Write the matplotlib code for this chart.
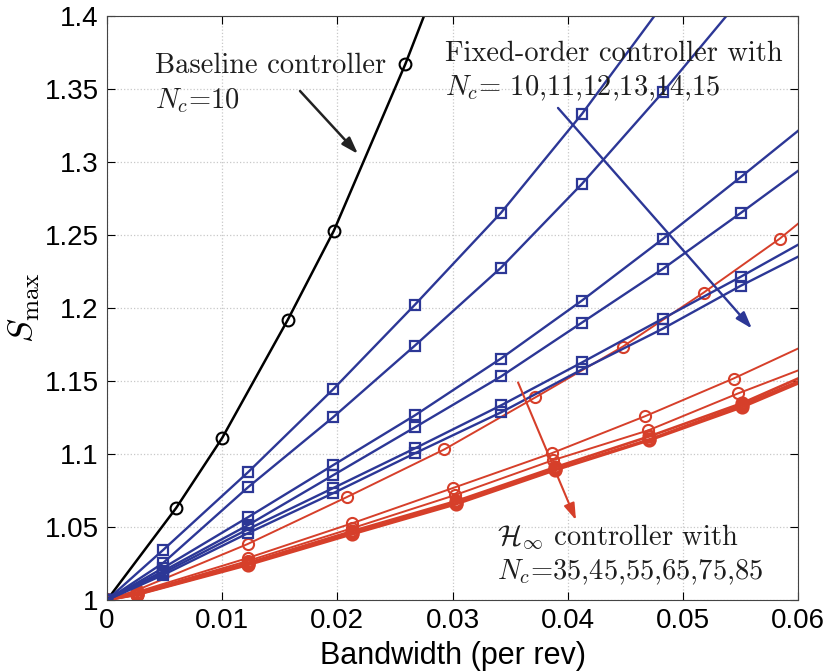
import matplotlib
matplotlib.use("Agg")
import matplotlib.pyplot as plt

plt.rcParams['mathtext.fontset'] = 'cm'
tick_font = ['Liberation Sans Narrow', 'Liberation Sans', 'DejaVu Sans']

# baseline controller (black)
base_bw = [0.0, 0.0060, 0.0100, 0.0157, 0.0197, 0.0259, 0.0290]
base_s = [1.000, 1.063, 1.111, 1.192, 1.253, 1.367, 1.430]
base_marks = [0, 1, 2, 3, 4, 5]

# fixed-order controllers (blue), Nc = 10..15
fo_bw = [0.0, 0.00486, 0.01224, 0.01962, 0.02674, 0.03421, 0.04124, 0.04828, 0.05505, 0.0600]
fo_s = [
    [1.000, 1.0342, 1.0875, 1.1442, 1.2023, 1.2652, 1.3329, 1.4080],
    [1.000, 1.0253, 1.0772, 1.1251, 1.1743, 1.2276, 1.2850, 1.3479, 1.4120],
    [1.000, 1.0219, 1.0567, 1.0923, 1.1265, 1.1654, 1.2051, 1.2474, 1.2898, 1.3213],
    [1.000, 1.0198, 1.0513, 1.0854, 1.1183, 1.1531, 1.1900, 1.2269, 1.2652, 1.2939],
    [1.000, 1.0185, 1.0485, 1.0766, 1.1039, 1.1333, 1.1627, 1.1928, 1.2215, 1.2433],
    [1.000, 1.0171, 1.0458, 1.0731, 1.1005, 1.1285, 1.1579, 1.1859, 1.2153, 1.2351],
]

# H-infinity controllers (red), Nc = 35..85
hinf_bw = [
    [0.0, 0.0026, 0.0122, 0.0208, 0.0293, 0.0372, 0.0448, 0.0518, 0.0584, 0.0600],
    [0.0, 0.0026, 0.0122, 0.0213, 0.0300, 0.0386, 0.0467, 0.0544, 0.0600],
    [0.0, 0.0026, 0.0122, 0.0213, 0.0302, 0.0387, 0.0470, 0.0548, 0.0600],
    [0.0, 0.0026, 0.0122, 0.0213, 0.0303, 0.0389, 0.0471, 0.0551, 0.0600],
    [0.0, 0.0026, 0.0122, 0.0213, 0.0303, 0.0389, 0.0471, 0.0551, 0.0600],
    [0.0, 0.0026, 0.0122, 0.0213, 0.0303, 0.0389, 0.0471, 0.0551, 0.0600],
]
hinf_s = [
    [1.000, 1.0068, 1.0383, 1.0704, 1.1032, 1.1388, 1.1736, 1.2105, 1.2474, 1.2577],
    [1.000, 1.0055, 1.0287, 1.0526, 1.0766, 1.1005, 1.1258, 1.1517, 1.1722],
    [1.000, 1.0048, 1.0267, 1.0492, 1.0718, 1.0957, 1.1162, 1.1415, 1.1572],
    [1.000, 1.0041, 1.0253, 1.0472, 1.0677, 1.0909, 1.1121, 1.1347, 1.1517],
    [1.000, 1.0038, 1.0246, 1.0458, 1.0663, 1.0895, 1.1100, 1.1333, 1.1497],
    [1.000, 1.0036, 1.0239, 1.0451, 1.0656, 1.0889, 1.1094, 1.1319, 1.1483],
]

xticks = [0, 0.01, 0.02, 0.03, 0.04, 0.05, 0.06]
xtick_labels = ['0', '0.01', '0.02', '0.03', '0.04', '0.05', '0.06']
yticks = [1, 1.05, 1.1, 1.15, 1.2, 1.25, 1.3, 1.35, 1.4]
ytick_labels = ['1', '1.05', '1.1', '1.15', '1.2', '1.25', '1.3', '1.35', '1.4']

blue = '#2c3796'
red = '#d63f2a'

fig = plt.figure(figsize=(8.31, 6.71), dpi=100)
ax = fig.add_axes([0.1288, 0.1058, 0.8315, 0.8704])

ax.plot(base_bw, base_s, color='black', lw=1.8, marker='o', ms=8.5,
        mfc='none', mew=1.5, markevery=base_marks)

for i, (bw, s) in enumerate(zip(hinf_bw, hinf_s)):
    n = len(s)
    ax.plot(bw[:n], s, color=red, lw=1.4 if i < 3 else 1.9, marker='o', ms=8,
            mfc='none', mew=1.5 if i < 3 else 2.2, markevery=list(range(n - 1)))

for s in fo_s:
    n = len(s)
    marks = list(range(n)) if n < len(fo_bw) else list(range(n - 1))
    ax.plot(fo_bw[:n], s, color=blue, lw=1.7, marker='s', ms=7,
            mfc='none', mew=1.6, markevery=marks)

# arrows
ax.annotate('', xy=(0.02179, 1.3055), xytext=(0.01676, 1.3486),
            arrowprops=dict(arrowstyle='-|>,head_length=1.0,head_width=0.33',
                            color='#222222', lw=1.8, shrinkA=0, shrinkB=0))
ax.annotate('', xy=(0.0560, 1.1859), xytext=(0.03916, 1.3370),
            arrowprops=dict(arrowstyle='-|>,head_length=1.0,head_width=0.33',
                            color=blue, lw=1.7, shrinkA=0, shrinkB=0))
ax.annotate('', xy=(0.04072, 1.0547), xytext=(0.03569, 1.1490),
            arrowprops=dict(arrowstyle='-|>,head_length=1.0,head_width=0.33',
                            color=red, lw=1.5, shrinkA=0, shrinkB=0))

# annotations
txt = dict(fontsize=20.5, family='cmr10', color='#1e1e1e', va='center', ha='left')
ax.text(0.00417, 1.3657, 'Baseline controller', **txt)
ax.text(0.00417, 1.3418, r'$N_c$=10', **txt)
ax.text(0.02935, 1.3739, 'Fixed-order controller with', **txt)
ax.text(0.02935, 1.3507, r'$N_c$= 10,11,12,13,14,15', **txt)
ax.text(0.03386, 1.0431, r'$\mathcal{H}_\infty$ controller with', **txt)
ax.text(0.03386, 1.0191, r'$N_c$=35,45,55,65,75,85', **txt)

ax.set_xlim(0, 0.06)
ax.set_ylim(1, 1.4)
ax.set_xticks(xticks)
ax.set_xticklabels(xtick_labels, family=tick_font, fontsize=20)
ax.set_yticks(yticks)
ax.set_yticklabels(ytick_labels, family=tick_font, fontsize=20)
ax.tick_params(direction='in', top=True, right=True, length=6, width=0.8, pad=6)
ax.grid(True, linestyle=':', color='#c8c8c8', lw=0.9)
for sp in ax.spines.values():
    sp.set_linewidth(0.8)
    sp.set_color('#444444')

ax.set_xlabel('Bandwidth (per rev)', family=tick_font, fontsize=22, labelpad=5)
ax.set_ylabel(r'$S_{\mathrm{max}}$', fontsize=26, labelpad=2)

fig.savefig('out.png', dpi=100)
